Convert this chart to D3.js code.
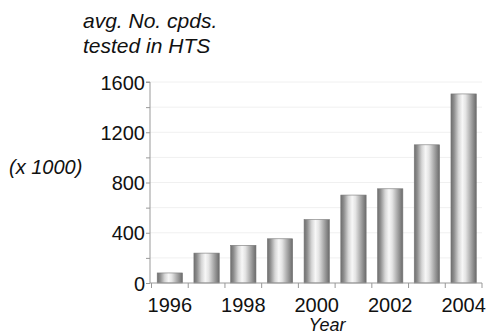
<!DOCTYPE html>
<html>
<head>
<meta charset="utf-8">
<script src="https://cdn.jsdelivr.net/npm/d3@7"></script>
<style>
  html, body { margin: 0; padding: 0; background: #fff; }
  svg { display: block; font-family: "Liberation Sans", Arial, Helvetica, sans-serif; }
</style>
</head>
<body>
<svg id="chart" width="488" height="335"></svg>
<script>
// Average number of compounds tested in HTS per year (thousands)
const years = ["1996", "1997", "1998", "1999", "2000", "2001", "2002", "2003", "2004"];
const values = [80, 238, 300, 352, 505, 700, 750, 1100, 1505];
const yTicks = [0, 400, 800, 1200, 1600];
const yMinorTicks = [0, 200, 400, 600, 800, 1000, 1200, 1400, 1600];
const xLabelYears = ["1996", "1998", "2000", "2002", "2004"];

const svg = d3.select("#chart");
const margin = { left: 150, right: 6, top: 82, bottom: 52 };
const W = 488, H = 335;

const x = d3.scaleBand()
  .domain(years)
  .range([margin.left + 1.5, W - margin.right])
  .paddingInner(0.31)
  .paddingOuter(0.155);

const y = d3.scaleLinear()
  .domain([0, 1600])
  .range([H - margin.bottom, margin.top]);

// Cylinder-style shading for the bars
const defs = svg.append("defs");
const grad = defs.append("linearGradient")
  .attr("id", "barShade")
  .attr("x1", "0%").attr("x2", "100%").attr("y1", "0%").attr("y2", "0%");
[
  [0, "#6e6e6e"], [0.12, "#8e8e8e"], [0.3, "#d6d6d6"], [0.45, "#f7f7f7"],
  [0.58, "#e4e4e4"], [0.78, "#a9a9a9"], [1, "#6a6a6a"]
].forEach(([o, c]) => grad.append("stop").attr("offset", o).attr("stop-color", c));

// Faint horizontal gridlines
svg.append("g")
  .selectAll("line")
  .data(yMinorTicks.filter(d => d > 0))
  .join("line")
  .attr("x1", margin.left).attr("x2", W - margin.right)
  .attr("y1", d => y(d)).attr("y2", d => y(d))
  .attr("stroke", "#f0f0f0").attr("stroke-width", 1);

// Bars
svg.append("g")
  .selectAll("rect")
  .data(years.map((yr, i) => ({ yr, v: values[i] })))
  .join("rect")
  .attr("x", d => x(d.yr))
  .attr("width", x.bandwidth())
  .attr("y", d => y(d.v))
  .attr("height", d => y(0) - y(d.v))
  .attr("fill", "url(#barShade)")
  .attr("stroke", "#777")
  .attr("stroke-width", 0.6);

// Y axis: minor ticks every 200, labels every 400
const yAxis = d3.axisLeft(y)
  .tickValues(yMinorTicks)
  .tickSize(4)
  .tickFormat(d => yTicks.includes(d) ? d : "");
const gy = svg.append("g")
  .attr("transform", `translate(${margin.left},0)`)
  .call(yAxis);
gy.select(".domain").attr("stroke", "#999").attr("d", `M-4,${y(1600)}H0V${y(0)}`);
gy.selectAll(".tick line").attr("stroke", "#999");
gy.selectAll(".tick text")
  .attr("x", -5)
  .attr("dy", "0.36em")
  .attr("font-size", 20)
  .attr("fill", "#111")
  .attr("font-family", "Liberation Sans, Arial, sans-serif");

// X axis: boundary ticks between bars, labels on even years
const step = x.step();
const boundaries = d3.range(years.length + 1).map(i => x(years[0]) - x.paddingInner() * step / 2 + i * step);
const gx = svg.append("g").attr("transform", `translate(0,${y(0)})`);
gx.append("line")
  .attr("x1", margin.left).attr("x2", boundaries[boundaries.length - 1])
  .attr("stroke", "#999");
gx.selectAll("line.tk")
  .data(boundaries)
  .join("line")
  .attr("class", "tk")
  .attr("x1", d => d).attr("x2", d => d)
  .attr("y1", 0).attr("y2", 5)
  .attr("stroke", "#999");
gx.selectAll("text")
  .data(xLabelYears)
  .join("text")
  .attr("x", d => x(d) + x.bandwidth() / 2)
  .attr("y", 29)
  .attr("text-anchor", "middle")
  .attr("font-size", 20)
  .attr("fill", "#111")
  .text(d => d);

// Axis titles
svg.append("text")
  .attr("x", 327).attr("y", 330.5)
  .attr("text-anchor", "middle")
  .attr("font-size", 18)
  .attr("font-style", "italic")
  .attr("fill", "#111")
  .text("Year");

const title = svg.append("text")
  .attr("font-size", 21)
  .attr("font-style", "italic")
  .attr("fill", "#111");
title.append("tspan").attr("x", 83).attr("y", 28).text("avg. No. cpds.");
title.append("tspan").attr("x", 83).attr("y", 53).text("tested in HTS");

svg.append("text")
  .attr("x", 9).attr("y", 174)
  .attr("font-size", 20)
  .attr("font-style", "italic")
  .attr("fill", "#111")
  .text("(x 1000)");
</script>
</body>
</html>
